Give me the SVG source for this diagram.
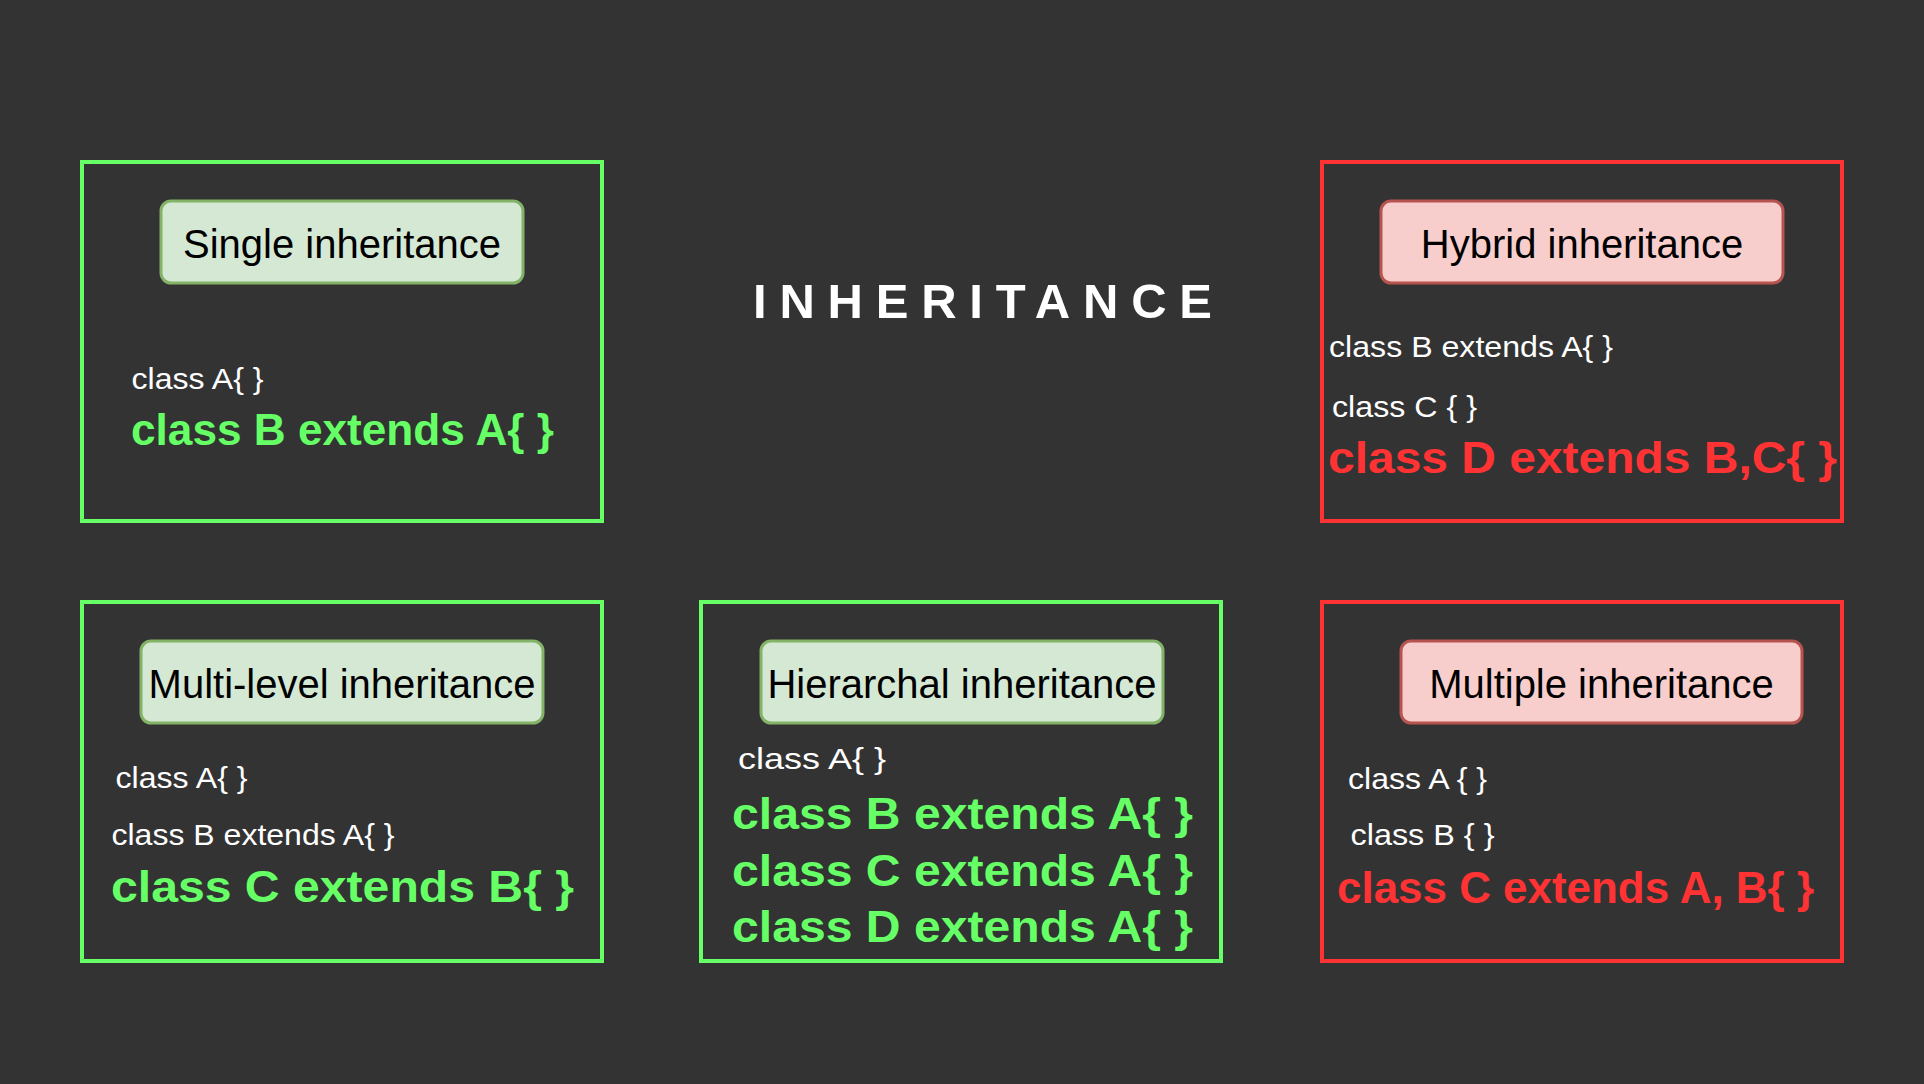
<svg xmlns="http://www.w3.org/2000/svg" width="1924" height="1084" viewBox="0 0 1924 1084">
  <style>
    .panel-ok { fill: none; stroke: #66ff66; stroke-width: 4; }
    .panel-bad { fill: none; stroke: #ff3333; stroke-width: 4; }
    .tag-ok { fill: #d5e8d4; stroke: #82b366; stroke-width: 3; }
    .tag-bad { fill: #f8cecc; stroke: #b85450; stroke-width: 3; }
    .tag-text { font-family: "Liberation Sans", Arial, sans-serif; font-size: 40px; fill: #000000; text-anchor: middle; }
    .code { font-family: "Liberation Sans", Arial, sans-serif; font-size: 29px; fill: #ffffff; }
    .code-ok { font-family: "Liberation Sans", Arial, sans-serif; font-size: 45px; font-weight: bold; fill: #66ff66; }
    .code-bad { font-family: "Liberation Sans", Arial, sans-serif; font-size: 45px; font-weight: bold; fill: #ff3333; }
    .title { font-family: "Liberation Sans", Arial, sans-serif; font-size: 49px; font-weight: bold; fill: #ffffff; }
  </style>

  <rect x="0" y="0" width="1924" height="1084" fill="#333333"/>

  <text id="title" class="title" x="753" y="318" textLength="459" lengthAdjust="spacing">INHERITANCE</text>

  <!-- Single inheritance -->
  <g id="single">
    <rect class="panel-ok" x="82" y="162" width="520" height="359"/>
    <rect class="tag-ok" x="161" y="201" width="362" height="82" rx="10"/>
    <text class="tag-text" x="342" y="258">Single inheritance</text>
    <text class="code" x="131.5" y="389" textLength="132" lengthAdjust="spacingAndGlyphs">class A{ }</text>
    <text class="code-ok" x="131" y="445" textLength="423" lengthAdjust="spacingAndGlyphs">class B extends A{ }</text>
  </g>

  <!-- Hybrid inheritance -->
  <g id="hybrid">
    <rect class="panel-bad" x="1322" y="162" width="520" height="359"/>
    <rect class="tag-bad" x="1381" y="201" width="402" height="82" rx="10"/>
    <text class="tag-text" x="1582" y="258">Hybrid inheritance</text>
    <text class="code" x="1329" y="357" textLength="284" lengthAdjust="spacingAndGlyphs">class B extends A{ }</text>
    <text class="code" x="1332" y="417" textLength="145" lengthAdjust="spacingAndGlyphs">class C { }</text>
    <text class="code-bad" x="1328" y="473" textLength="509" lengthAdjust="spacingAndGlyphs">class D extends B,C{ }</text>
  </g>

  <!-- Multi-level inheritance -->
  <g id="multilevel">
    <rect class="panel-ok" x="82" y="602" width="520" height="359"/>
    <rect class="tag-ok" x="141" y="641" width="402" height="82" rx="10"/>
    <text class="tag-text" x="342" y="698">Multi-level inheritance</text>
    <text class="code" x="115.5" y="788" textLength="132" lengthAdjust="spacingAndGlyphs">class A{ }</text>
    <text class="code" x="111.5" y="845" textLength="283" lengthAdjust="spacingAndGlyphs">class B extends A{ }</text>
    <text class="code-ok" x="111" y="902" textLength="463" lengthAdjust="spacingAndGlyphs">class C extends B{ }</text>
  </g>

  <!-- Hierarchal inheritance -->
  <g id="hierarchal">
    <rect class="panel-ok" x="701" y="602" width="520" height="359"/>
    <rect class="tag-ok" x="761" y="641" width="402" height="82" rx="10"/>
    <text class="tag-text" x="962" y="698">Hierarchal inheritance</text>
    <text class="code" x="738" y="769" textLength="148" lengthAdjust="spacingAndGlyphs">class A{ }</text>
    <text class="code-ok" x="732" y="829" textLength="461" lengthAdjust="spacingAndGlyphs">class B extends A{ }</text>
    <text class="code-ok" x="732" y="886" textLength="461" lengthAdjust="spacingAndGlyphs">class C extends A{ }</text>
    <text class="code-ok" x="732" y="942" textLength="461" lengthAdjust="spacingAndGlyphs">class D extends A{ }</text>
  </g>

  <!-- Multiple inheritance -->
  <g id="multiple">
    <rect class="panel-bad" x="1322" y="602" width="520" height="359"/>
    <rect class="tag-bad" x="1401" y="641" width="401" height="82" rx="10"/>
    <text class="tag-text" x="1601.5" y="698">Multiple inheritance</text>
    <text class="code" x="1348" y="789" textLength="139" lengthAdjust="spacingAndGlyphs">class A { }</text>
    <text class="code" x="1350.5" y="845" textLength="144" lengthAdjust="spacingAndGlyphs">class B { }</text>
    <text class="code-bad" x="1337" y="903" textLength="477" lengthAdjust="spacingAndGlyphs">class C extends A, B{ }</text>
  </g>
</svg>
